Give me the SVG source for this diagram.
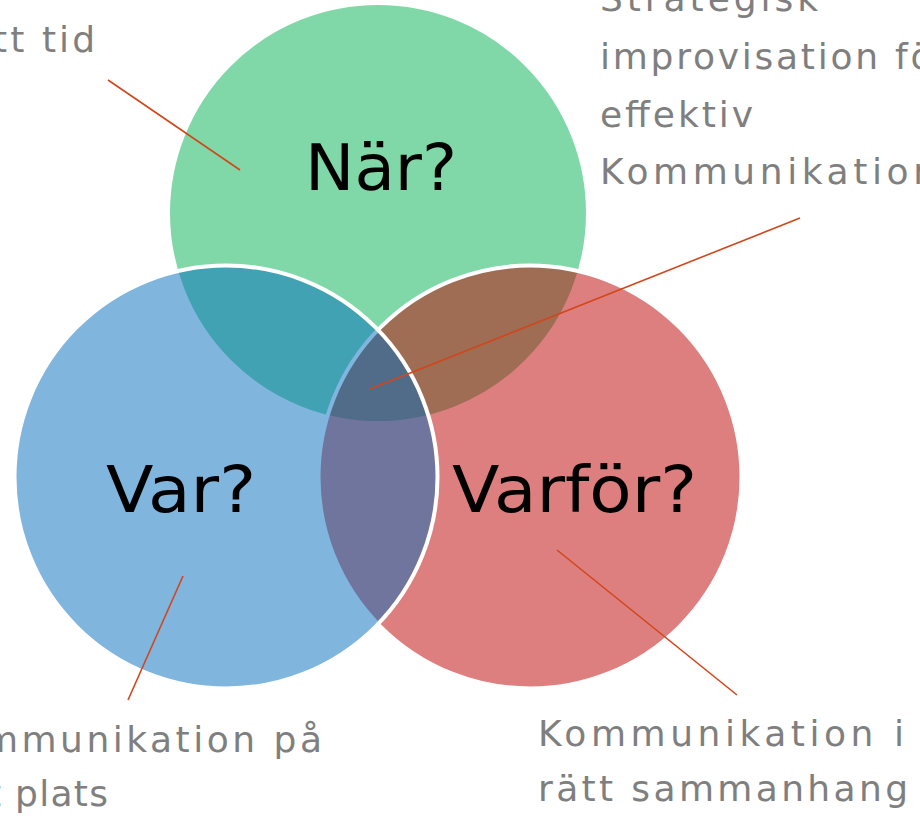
<svg xmlns="http://www.w3.org/2000/svg" width="920" height="821" viewBox="0 0 920 821">
  <style>
    .circ { fill-opacity: 0.5; stroke: #FFFFFF; stroke-width: 4; }
    .big { font-family: "DejaVu Sans", "Open Sans", sans-serif; font-size: 64px; fill: #000000; }
    .lbl { font-family: "DejaVu Sans", "Open Sans", sans-serif; font-size: 36px; fill: #7F7F7F; }
    .conn { stroke: #D2461A; stroke-width: 1.6; fill: none; }
  </style>
  <rect x="0" y="0" width="920" height="821" fill="#FFFFFF"/>
  <g id="node-nar">
    <circle class="circ" cx="378" cy="213" r="210" fill="#01B151"/>
  </g>
  <g id="node-varfor">
    <circle class="circ" cx="530" cy="477" r="211.5" fill="#BD0000"/>
  </g>
  <g id="node-var">
    <circle class="circ" cx="226" cy="477" r="211.5" fill="#016BBD"/>
  </g>
  <g id="node-labels">
    <text class="big" x="305" y="190" textLength="152" lengthAdjust="spacingAndGlyphs">När?</text>
    <text class="big" x="106" y="512" textLength="150" lengthAdjust="spacingAndGlyphs">Var?</text>
    <text class="big" x="452" y="512" textLength="245" lengthAdjust="spacingAndGlyphs">Varför?</text>
  </g>
  <g id="connectors">
    <line class="conn" x1="108" y1="80" x2="240" y2="170"/>
    <line class="conn" x1="800" y1="218" x2="370" y2="389"/>
    <line class="conn" x1="183" y1="576" x2="128" y2="700"/>
    <line class="conn" x1="557" y1="550" x2="737" y2="695"/>
  </g>
  <g id="label-tid">
    <text class="lbl" x="-50" y="52" textLength="145">rätt tid</text>
  </g>
  <g id="label-center">
    <text class="lbl" x="600" y="11" textLength="218">Strategisk</text>
    <text class="lbl" x="600" y="69" textLength="350">improvisation för</text>
    <text class="lbl" x="600" y="127" textLength="153">effektiv</text>
    <text class="lbl" x="600" y="184" textLength="336">Kommunikation</text>
  </g>
  <g id="label-plats">
    <text class="lbl" x="-68" y="752" textLength="390">Kommunikation på</text>
    <text class="lbl" x="-68" y="806" textLength="176">rätt plats</text>
  </g>
  <g id="label-sammanhang">
    <text class="lbl" x="538" y="746" textLength="366">Kommunikation i</text>
    <text class="lbl" x="538" y="801" textLength="370">rätt sammanhang</text>
  </g>
</svg>
